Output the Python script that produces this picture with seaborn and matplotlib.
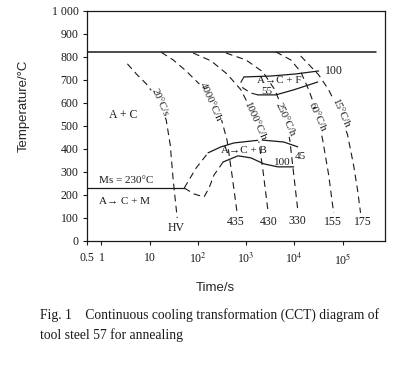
import numpy as np
import pandas as pd
import matplotlib
matplotlib.use("Agg")
import matplotlib.pyplot as plt
from matplotlib.ticker import NullLocator
import seaborn as sns

# cooling curves (time s, temperature C)
curve_labels = ["20°C/s", "4000°C/h", "1000°C/h", "250°C/h", "60°C/h", "15°C/h"]
c1_t = [3.45, 5.29, 8.5, 15.1, 22.0, 26.7, 30.7, 37.2]
c1_T = [770, 726, 683, 613, 526, 417, 265, 100]
c2_t = [17.4, 30.7, 57, 106, 187, 301, 401, 509, 646]
c2_T = [820, 787, 739, 683, 613, 535, 439, 287, 126]
c3_t = [79.6, 187, 401, 781, 1257, 1754, 2223, 2820]
c3_T = [817, 783, 726, 657, 570, 461, 309, 135]
c4_t = [383, 991, 2223, 3936, 6040, 8035, 9725, 11750]
c4_T = [817, 787, 735, 657, 561, 439, 287, 135]
c5_t = [4130, 8430, 13550, 19850, 29040, 38640, 51400, 65160]
c5_T = [822, 787, 735, 657, 561, 439, 287, 122]
c6_t = [13550, 31920, 51400, 82600, 126800, 168700, 204000, 235500]
c6_T = [804, 722, 657, 570, 461, 330, 222, 122]
label_t = [16, 187, 1480, 6300, 30000, 92000]
label_T = [600, 605, 522, 530, 540, 558]

# hardness at end of each curve
hv_text = ["HV", "435", "430", "330", "155", "175"]
hv_t = [35.4, 615, 2960, 11750, 62100, 259000]
hv_T = [57, 83, 83, 87, 83, 83]

# Ac1 and Ms lines
ac1 = 820
ac1_t = [0.5, 4.9e5]
ms = 230
ms_t = [0.5, 52]

# bainite region
b_up_t = [162.5, 301, 560, 2023, 6040, 11750]
b_up_T = [383, 409, 426, 439, 430, 409]
b_lo_t = [332, 677, 1257, 2333, 4540, 9725]
b_lo_T = [343, 370, 361, 335, 322, 322]
b_up_dash_t = [52, 91.8, 162.5]
b_up_dash_T = [230, 317, 383]
b_lo_dash_t = [52, 83.4, 134, 170, 216, 274, 332]
b_lo_dash_T = [230, 204, 191, 230, 287, 317, 343]

# ferrite region
f_up_t = [901, 3252, 10690, 31920]
f_up_T = [713, 717, 726, 739]
f_cap_t = [901, 781, 859, 1257, 1754]
f_cap_T = [713, 691, 665, 643, 635]
f_lo_t = [1754, 4130, 9725, 30430]
f_lo_T = [635, 635, 657, 691]

sns.set_style("ticks")
serif = ["Liberation Serif", "DejaVu Serif"]
plt.rcParams["font.family"] = serif
plt.rcParams["mathtext.fontset"] = "stix"

fig = plt.figure(figsize=(4.12, 3.65), dpi=100)
ax = fig.add_axes([0.211, 0.340, 0.723, 0.630])
ink = "#1a1a1a"

def line(t, T, ls="-", lw=0.9):
    df = pd.DataFrame({"t": t, "T": T})
    sns.lineplot(data=df, x="t", y="T", sort=False, estimator=None, ax=ax,
                 color=ink, linestyle=ls, linewidth=lw)

dash = (0, (6, 4))
for t, T in [(c1_t, c1_T), (c2_t, c2_T), (c3_t, c3_T),
             (c4_t, c4_T), (c5_t, c5_T), (c6_t, c6_T)]:
    line(t, T, ls=dash, lw=0.8)

line(ac1_t, [ac1, ac1], lw=1.1)
line(ms_t, [ms, ms], lw=0.9)
line(b_up_t, b_up_T)
line(b_lo_t, b_lo_T)
line(b_up_dash_t, b_up_dash_T, ls=dash, lw=0.8)
line(b_lo_dash_t, b_lo_dash_T, ls=dash, lw=0.8)
line(f_up_t, f_up_T)
line(f_cap_t, f_cap_T, ls=dash, lw=0.8)
line(f_lo_t, f_lo_T)

for s, t, T in zip(curve_labels, label_t, label_T):
    ax.text(t, T, s, rotation=-66, rotation_mode="anchor", ha="center", va="center",
            fontsize=7.8, color=ink,
            bbox=dict(facecolor="white", edgecolor="none", pad=0.1))

for s, t, T in zip(hv_text, hv_t, hv_T):
    ax.text(t, T, s, ha="center", va="center", fontsize=8.5, color=ink)

ax.text(2.85, 548, "A + C", ha="center", va="center", fontsize=8.5, color=ink)
ax.text(4760, 698, "A→C + F", ha="center", va="center", fontsize=8, color=ink)
ax.text(2690, 650, "55", ha="center", va="center", fontsize=8, color=ink)
ax.text(65160, 737, "100", ha="center", va="center", fontsize=8.5, color=ink)
ax.text(901, 393, "A→C + B", ha="center", va="center", fontsize=8, color=ink)
ax.text(5754, 343, "100", ha="center", va="center", fontsize=8, color=ink)
ax.text(13550, 367, "45", ha="center", va="center", fontsize=8, color=ink)
ax.text(3.29, 261, "Ms = 230°C", ha="center", va="center", fontsize=8, color=ink)
ax.text(2.98, 170, "A→ C + M", ha="center", va="center", fontsize=8, color=ink)

ax.set_xscale("log")
ax.set_xlim(0.5, 7.5e5)
ax.set_ylim(0, 1000)
ax.set_xticks([0.5, 1, 10, 100, 1e3, 1e4, 1e5])
ax.set_xticklabels(["0.5", "1", "10", "10$^2$", "10$^3$", "10$^4$", "10$^5$"])
ax.xaxis.set_minor_locator(NullLocator())
yt = list(range(0, 1001, 100))
ax.set_yticks(yt)
ax.set_yticklabels([str(v) if v < 1000 else "1 000" for v in yt])
ax.tick_params(labelsize=8.5, length=3, width=0.8, colors=ink, pad=3)
ax.tick_params(axis="x", pad=5)
for sp in ax.spines.values():
    sp.set_visible(True)
    sp.set_linewidth(0.9)
    sp.set_color(ink)

sans = ["Liberation Sans", "DejaVu Sans"]
ax.set_xlabel("Time/s", family=sans, fontsize=9.5)
ax.set_ylabel("Temperature/°C", family=sans, fontsize=9.5)
ax.xaxis.set_label_coords(0.43, -0.178)
ax.yaxis.set_label_coords(-0.191, 0.587)

fig.text(0.097, 0.137, "Fig. 1    Continuous cooling transformation (CCT) diagram of",
         fontsize=9.8, color=ink, va="center")
fig.text(0.097, 0.082, "tool steel 57 for annealing", fontsize=9.8, color=ink, va="center")

fig.savefig("out.png", dpi=100)
